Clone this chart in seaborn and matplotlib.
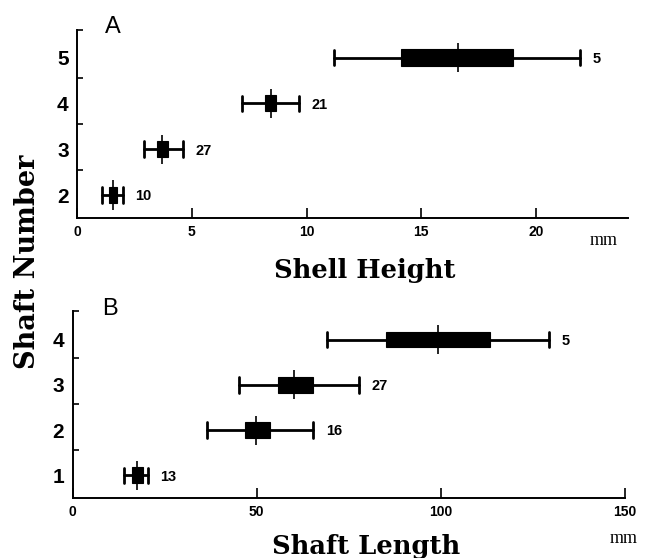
import pandas as pd
import seaborn as sns
import matplotlib
matplotlib.use("Agg")
import matplotlib.pyplot as plt

# Panel A: shell height (mm) per shaft number
shaft_a = [2, 3, 4, 5]
height_lo = [1.07, 2.9, 7.2, 11.2]
height_q1 = [1.4, 3.5, 8.2, 14.1]
height_med = [1.57, 3.7, 8.43, 16.6]
height_q3 = [1.75, 3.97, 8.65, 19.0]
height_hi = [2.0, 4.6, 9.66, 21.9]
height_n = [10, 27, 21, 5]

# Panel B: shaft length (mm) per shaft number
shaft_b = [1, 2, 3, 4]
length_lo = [14.0, 36.5, 45.3, 69.1]
length_q1 = [16.1, 46.8, 55.8, 85.1]
length_med = [17.5, 49.8, 60.2, 99.2]
length_q3 = [19.2, 53.6, 65.4, 113.4]
length_hi = [20.5, 65.4, 77.8, 129.4]
length_n = [13, 16, 27, 5]

df_a = pd.DataFrame({'shaft': shaft_a, 'lo': height_lo, 'q1': height_q1, 'med': height_med,
                     'q3': height_q3, 'hi': height_hi, 'n': height_n})
df_b = pd.DataFrame({'shaft': shaft_b, 'lo': length_lo, 'q1': length_q1, 'med': length_med,
                     'q3': length_q3, 'hi': length_hi, 'n': length_n})

sns.set_style('ticks')
plt.rcParams['font.family'] = ['Liberation Sans', 'DejaVu Sans']
plt.rcParams['font.weight'] = 'bold'
plt.rcParams['text.color'] = 'black'
plt.rcParams['axes.labelcolor'] = 'black'
plt.rcParams['xtick.color'] = 'black'
plt.rcParams['ytick.color'] = 'black'

SERIF = ['DejaVu Serif']


def draw_panel(ax, df, xlim, ylim, xticks, tick_marks):
    stats = [dict(whislo=r.lo, q1=r.q1, med=r.med, q3=r.q3, whishi=r.hi, fliers=[])
             for r in df.itertuples()]
    ax.bxp(stats, positions=df['shaft'].tolist(), widths=0.35, capwidths=0.34,
           orientation='horizontal', patch_artist=True, showfliers=False, manage_ticks=False,
           boxprops=dict(facecolor='black', edgecolor='black', linewidth=0.8),
           whiskerprops=dict(color='black', linewidth=2.0),
           capprops=dict(color='black', linewidth=2.0),
           medianprops=dict(color='black', linewidth=0.8))
    # median tick sticks out above and below the box
    ax.vlines(df['med'], df['shaft'] - 0.32, df['shaft'] + 0.32, color='black', linewidth=1.2)

    for r in df.itertuples():
        ax.annotate(str(r.n), xy=(r.hi, r.shaft), xytext=(9, -1), textcoords='offset points',
                    ha='left', va='center', fontsize=10.5, fontweight='bold', color='black')

    ax.set_xlim(*xlim)
    ax.set_ylim(*ylim)
    ax.set_xticks(xticks)
    ax.set_xticklabels([str(t) for t in xticks], fontsize=10, fontweight='bold')
    ax.set_yticks(df['shaft'].tolist())
    ax.set_yticklabels([str(s) for s in df['shaft']], fontsize=15, fontweight='bold')
    ax.set_yticks(tick_marks, minor=True)
    ax.tick_params(axis='x', direction='in', length=7, width=1.2, pad=5, colors='black')
    ax.tick_params(axis='y', which='major', length=0, pad=6, colors='black')
    ax.tick_params(axis='y', which='minor', direction='in', length=4, width=1.2)
    sns.despine(ax=ax)
    for side in ['left', 'bottom']:
        ax.spines[side].set_linewidth(1.4)
        ax.spines[side].set_color('black')
    ax.set_facecolor('white')


fig = plt.figure(figsize=(6.53, 5.58), dpi=100)
W, H = 653, 558
ax_a = fig.add_axes([77 / W, 1 - 218 / H, 551 / W, 188 / H])
ax_b = fig.add_axes([72.5 / W, 1 - 498 / H, 552.5 / W, 187 / H])

draw_panel(ax_a, df_a, (0, 24), (1.5, 5.6), [0, 5, 10, 15, 20], [2.55, 3.55, 4.55, 5.6])
draw_panel(ax_b, df_b, (0, 150), (0.5, 4.63), [0, 50, 100, 150], [1.55, 2.58, 3.6, 4.63])

fig.text(105 / W, 1 - 33 / H, 'A', fontsize=17, fontweight='normal', ha='left', va='baseline')
fig.text(102 / W, 1 - 315 / H, 'B', fontsize=17, fontweight='normal', ha='left', va='baseline')

fig.text(365 / W, 1 - 278 / H, 'Shell Height', family=SERIF, fontsize=18.5, fontweight='bold',
         ha='center', va='baseline')
fig.text(366 / W, 1 - 554 / H, 'Shaft Length', family=SERIF, fontsize=18.5, fontweight='bold',
         ha='center', va='baseline')
fig.text(28 / W, 1 - 262 / H, 'Shaft Number', family=SERIF, fontsize=19.5, fontweight='bold',
         rotation=90, ha='center', va='center')

fig.text(590 / W, 1 - 245 / H, 'mm', family=['Liberation Serif'], fontsize=13, fontweight='normal',
         ha='left', va='baseline')
fig.text(610 / W, 1 - 543 / H, 'mm', family=['Liberation Serif'], fontsize=13, fontweight='normal',
         ha='left', va='baseline')

fig.savefig('out.png', dpi=100, facecolor='white')
